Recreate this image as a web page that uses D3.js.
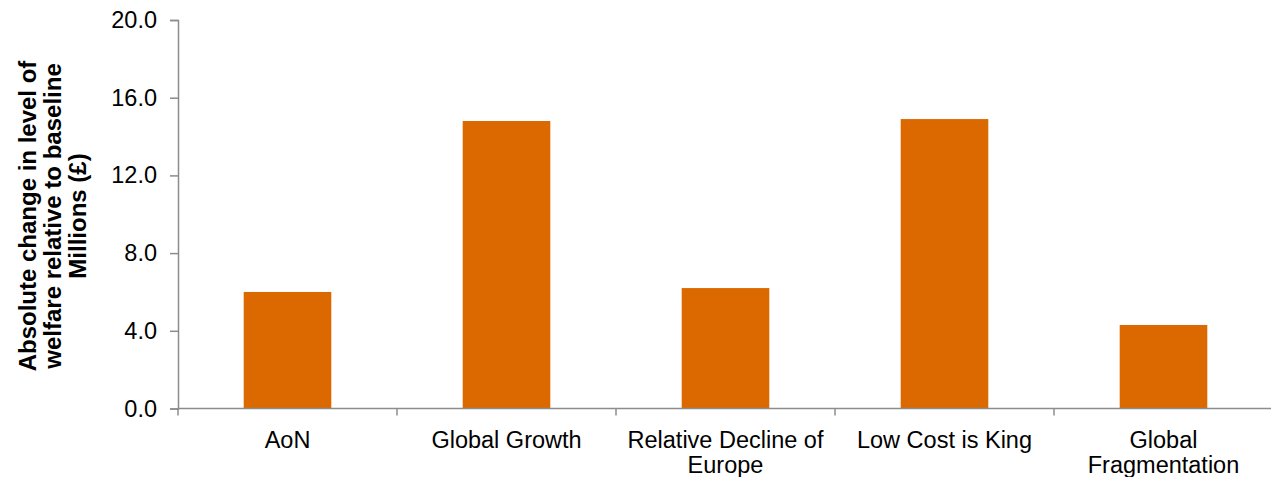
<!DOCTYPE html>
<html><head><meta charset="utf-8">
<script src="https://cdn.jsdelivr.net/npm/d3@7"></script>
<style>body{margin:0;background:#fff}svg{display:block}</style>
</head><body>
<svg id="chart" width="1271" height="477"></svg>
<script>
const categories = ["AoN", "Global Growth", "Relative Decline of Europe", "Low Cost is King", "Global Fragmentation"];
const categoryLines = [["AoN"], ["Global Growth"], ["Relative Decline of", "Europe"], ["Low Cost is King"], ["Global", "Fragmentation"]];
const values = [6.0, 14.8, 6.2, 14.9, 4.3];
const yTicks = [0, 4, 8, 12, 16, 20];
const yTitle = ["Absolute change in level of", "welfare relative to baseline", "Millions (£)"];

(function () {
const svg = d3.select("#chart");
const mLeft = 178, mRight = 1273, mTop = 20, mBottom = 408.5;
const font = "'Liberation Sans', Arial, sans-serif";
const axisColor = "#8c8c8c";

const x = d3.scaleBand().domain(categories).range([mLeft, mRight]).paddingInner(0.6).paddingOuter(0.3);
const xb = d3.scaleBand().domain(categories).range([mLeft, mRight]);
const y = d3.scaleLinear().domain([0, 20]).range([mBottom, mTop]);

svg.append("g").selectAll("rect").data(values).join("rect")
  .attr("x", (d, i) => x(categories[i]))
  .attr("width", x.bandwidth())
  .attr("y", d => y(d))
  .attr("height", d => y(0) - y(d))
  .attr("fill", "#DC6900");

const yAxis = svg.append("g").attr("transform", `translate(${mLeft},0)`)
  .call(d3.axisLeft(y).tickValues(yTicks).tickFormat(d3.format(".1f")).tickSize(8).tickPadding(13));
yAxis.select(".domain").attr("stroke", axisColor).attr("stroke-width", 1.5);
yAxis.selectAll(".tick line").attr("stroke", axisColor).attr("stroke-width", 1.5);
yAxis.selectAll(".tick text").attr("font-family", font).attr("font-size", 23.5).attr("fill", "#000");

const xg = svg.append("g");
xg.append("line").attr("x1", mLeft).attr("x2", mRight).attr("y1", y(0)).attr("y2", y(0))
  .attr("stroke", axisColor).attr("stroke-width", 1.5);
const bounds = categories.map(c => xb(c)).concat([xb(categories[categories.length - 1]) + xb.bandwidth()]);
xg.selectAll("line.tk").data(bounds).join("line").attr("class", "tk")
  .attr("x1", d => d).attr("x2", d => d).attr("y1", y(0)).attr("y2", y(0) + 7)
  .attr("stroke", axisColor).attr("stroke-width", 1.5);

categoryLines.forEach((lines, i) => {
  const cx = xb(categories[i]) + xb.bandwidth() / 2;
  const t = svg.append("text").attr("x", cx).attr("y", y(0) + 39)
    .attr("text-anchor", "middle").attr("font-family", font).attr("font-size", 23.5).attr("fill", "#000");
  lines.forEach((l, j) => t.append("tspan").attr("x", cx).attr("dy", j === 0 ? 0 : 25).text(l));
});

const yc = 216;
const tt = svg.append("text").attr("transform", `translate(36,${yc}) rotate(-90)`)
  .attr("text-anchor", "middle").attr("font-family", font).attr("font-size", 24)
  .attr("font-weight", "bold").attr("fill", "#000");
yTitle.forEach((l, j) => tt.append("tspan").attr("x", 0).attr("dy", j === 0 ? 0 : 25).text(l));
})();
</script>
</body></html>
